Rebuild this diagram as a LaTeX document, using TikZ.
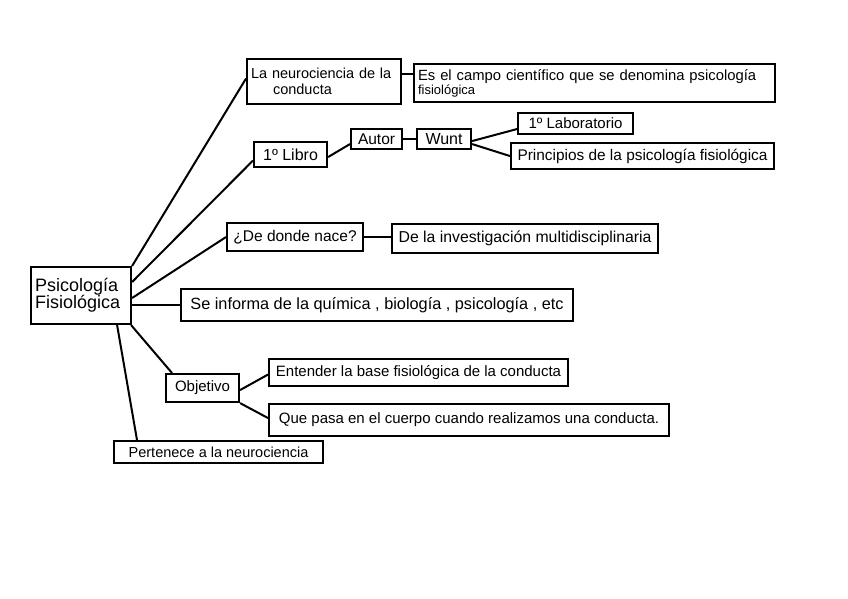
\documentclass[tikz,border=0pt]{standalone}
\usepackage{fontspec}
\setmainfont{Liberation Sans}
\newcommand{\fsz}[1]{\fontsize{#1}{#1}\selectfont}
\begin{document}
\begin{tikzpicture}[x=1pt,y=-1pt,
  bx/.style={draw, line width=2.1pt, anchor=north west, inner sep=0pt, align=center},
  ln/.style={line width=2pt}]
\useasboundingbox (0,0) rectangle (848,599);
\fill[white] (0,0) rectangle (848,599);

\node[bx, minimum width=100pt, minimum height=57pt, text width=92pt, align=left, font=\fontsize{18}{17}\selectfont] (main) at (30,266) {Psicología\\Fisiológica};

\node[bx, minimum width=154pt, minimum height=45pt, text width=146pt, align=left, font=\fontsize{14.5}{16}\selectfont] (la) at (246,58) {La neurociencia de la\\\hspace*{22pt}conducta};
\node[bx, minimum width=361pt, minimum height=38pt, text width=353pt, align=left, font=\fontsize{14.8}{14}\selectfont] (es) at (413,63) {\hyphenpenalty=10000 Es el campo científico que se denomina psicología\\{\fsz{13}fisiológica}};

\node[bx, minimum width=73pt, minimum height=25pt, font=\fsz{16}] (libro) at (253,141) {1º Libro};
\node[bx, minimum width=51pt, minimum height=20pt, font=\fsz{15.5}] (autor) at (350,128) {Autor};
\node[bx, minimum width=54pt, minimum height=20pt, font=\fsz{16}] (wunt) at (416,128) {Wunt};
\node[bx, minimum width=115pt, minimum height=21pt, font=\fsz{15}] (lab) at (517,112) {1º Laboratorio};
\node[bx, minimum width=263pt, minimum height=26pt, font=\fsz{15.4}] (prin) at (510,142) {Principios de la psicología fisiológica};

\node[bx, minimum width=136pt, minimum height=28pt, font=\fsz{15.5}] (nace) at (226,222) {¿De donde nace?};
\node[bx, minimum width=266pt, minimum height=29pt, font=\fsz{15.8}] (dela) at (391,223) {De la investigación multidisciplinaria};

\node[bx, minimum width=392pt, minimum height=32pt, font=\fsz{16.3}] (se) at (180,288) {Se informa de la química , biología , psicología , etc};

\node[bx, minimum width=73pt, minimum height=28pt, font=\fsz{15}] (obj) at (165,373) {Objetivo};
\node[bx, minimum width=299pt, minimum height=27pt, font=\fsz{15}] (ent) at (268,358) {Entender la base fisiológica de la conducta};
\node[bx, minimum width=400pt, minimum height=32pt, font=\fsz{15}] (que) at (268,403) {Que pasa en el cuerpo cuando realizamos una conducta.};

\node[bx, minimum width=209pt, minimum height=22pt, font=\fsz{14.5}] (pert) at (113,440) {Pertenece a la neurociencia};

% connectors
\draw[ln] (main.north east) -- ([yshift=3pt]la.west);
\draw[ln] ([yshift=-16pt]main.north east) -- ([yshift=-6pt]libro.west);
\draw[ln] ([yshift=-32pt]main.north east) -- (nace.west);
\draw[ln] (main.east |- se.west) -- (se.west);
\draw[ln] ([xshift=-1pt]main.south east) -- ([xshift=7pt]obj.north west);
\draw[ln] ([xshift=-15pt]main.south east) -- ([xshift=24pt]pert.north west);

\draw[ln] ([yshift=7.5pt]la.east) -- ([yshift=9pt]es.west);
\draw[ln] ([yshift=-2.5pt]libro.east) -- ([yshift=-5pt]autor.west);
\draw[ln] (autor.east) -- (wunt.west);
\draw[ln] ([yshift=-2pt]wunt.east) -- ([yshift=-5.5pt]lab.west);
\draw[ln] ([yshift=-5pt]wunt.east) -- (prin.west);
\draw[ln] (nace.east) -- (nace.east -| dela.west);
\draw[ln] ([yshift=-2pt]obj.east) -- ([yshift=-2pt]ent.west);
\draw[ln] (obj.south east) -- ([yshift=2pt]que.west);
\end{tikzpicture}
\end{document}
